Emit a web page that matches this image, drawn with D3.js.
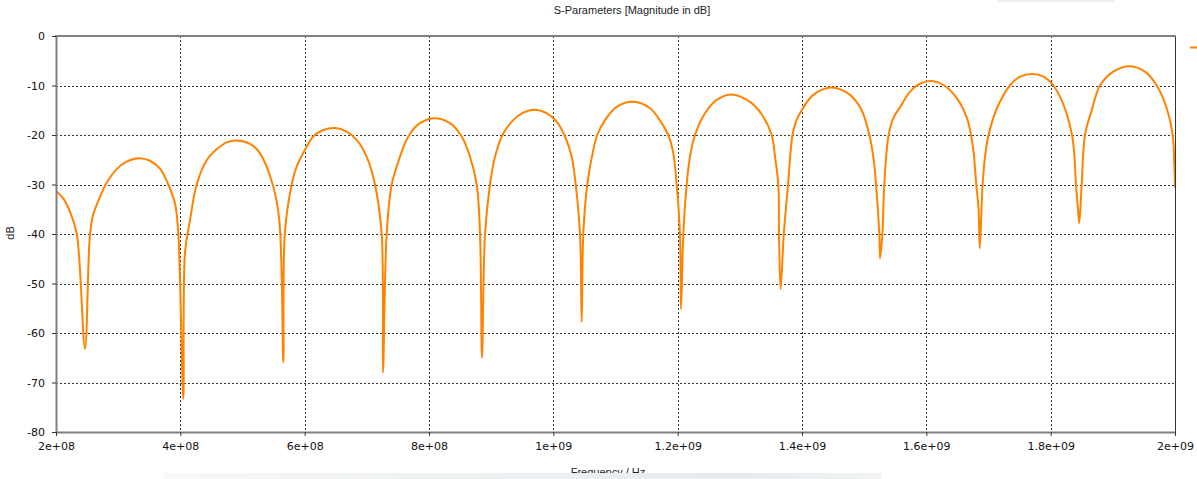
<!DOCTYPE html>
<html>
<head>
<meta charset="utf-8">
<script src="https://cdn.jsdelivr.net/npm/d3@7"></script>
<style>
  html, body { margin: 0; padding: 0; background: #ffffff; overflow: hidden; }
  svg { display: block; }
</style>
</head>
<body>
<svg id="chart" width="1197" height="479"></svg>
<script>
// ---- data ----
const titleText = "S-Parameters [Magnitude in dB]";
const xLabelText = "Frequency / Hz";
const yLabelText = "dB";

const xTickValues = [2e8, 4e8, 6e8, 8e8, 1e9, 1.2e9, 1.4e9, 1.6e9, 1.8e9, 2e9];
const xTickLabels = ["2e+08", "4e+08", "6e+08", "8e+08", "1e+09", "1.2e+09", "1.4e+09", "1.6e+09", "1.8e+09", "2e+09"];
const yTickValues = [0, -10, -20, -30, -40, -50, -60, -70, -80];
const yTickLabels = ["0", "-10", "-20", "-30", "-40", "-50", "-60", "-70", "-80"];

// frequency in MHz
const freqMHz = [
  200.0, 211.7, 222.5, 233.3, 246.6, 254.7, 260.0, 270.8, 279.9, 297.6, 313.7, 332.4, 351.2, 367.3, 380.6, 391.4, 396.7,
  404.8, 407.5, 415.6, 426.3, 442.4, 458.5, 474.6, 490.7, 512.1, 528.2, 548.6, 559.2,
  565.7, 568.0, 579.1, 587.1, 600.5, 613.9, 630.0, 648.8, 667.6, 683.7, 699.8, 713.1, 723.9,
  726.0, 731.9, 740.0, 748.0, 766.7, 785.5, 809.7, 833.8, 852.6, 866.0, 876.7, 882.1,
  885.3, 890.1, 898.1, 906.2, 918.6, 935.6, 951.7, 968.9, 989.3, 1005.4, 1018.8, 1029.5, 1036.0, 1042.9,
  1045.6, 1048.2, 1054.6, 1064.3, 1070.7, 1083.1, 1101.9, 1128.6, 1155.5, 1174.3, 1184.9, 1193.0, 1198.4, 1203.7,
  1205.4, 1209.1, 1214.5, 1219.8, 1227.9, 1244.0, 1262.8, 1286.9, 1316.4, 1335.1, 1351.2, 1356.6, 1361.9, 1363.0,
  1365.6, 1370.7, 1377.6, 1384.7, 1391.2, 1399.5, 1418.2, 1447.7, 1477.2, 1496.0, 1508.3, 1514.7, 1519.1, 1524.4,
  1525.6, 1529.3, 1532.4, 1539.3, 1548.0, 1558.1, 1574.2, 1590.3, 1609.1, 1627.7, 1649.3, 1665.4, 1671.8, 1676.0, 1680.3, 1684.0,
  1686.0, 1690.5, 1694.8, 1700.1, 1713.6, 1735.0, 1751.1, 1769.9, 1788.6, 1803.7, 1820.7, 1834.3, 1838.0, 1840.7, 1843.9,
  1846.0, 1849.9, 1855.2, 1866.0, 1879.4, 1900.8, 1926.5, 1951.8, 1970.6, 1986.7, 1996.3, 1998.9, 2000.0
];
const magDB = [
  -31.3, -32.8, -35.5, -39.9, -63.2, -40.0, -36.0, -32.5, -30.0, -26.9, -25.4, -24.7, -25.2, -26.8, -30.0, -33.8, -39.9,
  -73.3, -43.8, -37.2, -30.0, -25.1, -22.9, -21.5, -21.1, -21.8, -23.7, -30.0, -37.2,
  -65.9, -40.0, -30.0, -26.4, -23.0, -20.3, -19.0, -18.6, -19.3, -21.0, -24.4, -30.0, -40.0,
  -68.0, -40.0, -30.0, -26.4, -20.3, -17.6, -16.6, -17.6, -20.3, -24.4, -30.0, -40.0,
  -65.0, -40.0, -30.0, -24.4, -19.9, -17.0, -15.5, -14.9, -15.6, -17.3, -20.3, -24.4, -30.0, -40.0,
  -57.8, -39.9, -30.0, -23.0, -20.0, -17.0, -14.3, -13.3, -14.6, -17.6, -20.0, -23.7, -30.0, -40.0,
  -55.2, -40.0, -30.0, -24.4, -20.0, -15.6, -12.9, -11.8, -13.3, -15.8, -20.0, -24.4, -30.0, -40.0,
  -51.1, -40.0, -30.0, -20.0, -17.0, -15.0, -11.9, -10.4, -11.9, -15.0, -20.0, -24.4, -30.0, -40.0,
  -44.9, -40.0, -30.0, -20.0, -16.3, -14.3, -11.2, -9.6, -9.1, -9.9, -12.6, -16.6, -20.0, -23.4, -30.0, -34.8,
  -42.9, -30.0, -24.0, -20.0, -14.6, -9.9, -8.2, -7.7, -8.2, -9.9, -13.9, -20.0, -24.0, -30.0, -34.8,
  -37.8, -30.0, -20.0, -15.0, -10.0, -7.2, -6.1, -7.2, -10.0, -14.6, -20.0, -26.0, -30.6
];

// ---- layout ----
const svg = d3.select("#chart");
const W = 1197, H = 479;
const plot = { left: 56, right: 1175, top: 36, bottom: 432 };

const x = d3.scaleLinear().domain([2e8, 2e9]).range([plot.left, plot.right]);
const y = d3.scaleLinear().domain([-80, 0]).range([plot.bottom, plot.top]);

svg.append("rect").attr("width", W).attr("height", H).attr("fill", "#ffffff");

// grid
const grid = svg.append("g").attr("class", "grid");
grid.selectAll("line.vg")
  .data(xTickValues.slice(1, -1))
  .join("line")
  .attr("x1", d => Math.round(x(d)) + 0.5).attr("x2", d => Math.round(x(d)) + 0.5)
  .attr("y1", plot.top).attr("y2", plot.bottom)
  .attr("stroke", "#333").attr("stroke-width", 1).attr("stroke-dasharray", "2,2");
grid.selectAll("line.hg")
  .data(yTickValues.slice(1, -1))
  .join("line")
  .attr("x1", plot.left).attr("x2", plot.right)
  .attr("y1", d => Math.round(y(d)) + 0.5).attr("y2", d => Math.round(y(d)) + 0.5)
  .attr("stroke", "#333").attr("stroke-width", 1).attr("stroke-dasharray", "2,2");

// curve
const data = freqMHz.map((f, i) => ({ f: f * 1e6, v: magDB[i] }));
const line = d3.line()
  .x(d => x(d.f))
  .y(d => y(d.v))
  .curve(d3.curveCatmullRom.alpha(0.5));

const clip = svg.append("defs").append("clipPath").attr("id", "plotclip");
clip.append("rect").attr("x", plot.left).attr("y", plot.top)
  .attr("width", plot.right - plot.left + 1).attr("height", plot.bottom - plot.top);

svg.append("path")
  .datum(data)
  .attr("clip-path", "url(#plotclip)")
  .attr("fill", "none")
  .attr("stroke", "#ff8200")
  .attr("stroke-width", 2)
  .attr("stroke-linejoin", "round")
  .attr("d", line);

// frame
svg.append("line").attr("x1", plot.right + 0.5).attr("x2", plot.right + 0.5)
  .attr("y1", plot.top).attr("y2", plot.bottom).attr("stroke", "#333").attr("stroke-width", 1);
svg.append("line").attr("x1", plot.left - 1).attr("x2", plot.right + 1)
  .attr("y1", plot.top).attr("y2", plot.top).attr("stroke", "#808080").attr("stroke-width", 2);

// axes
const yAxis = d3.axisLeft(y)
  .tickValues(yTickValues)
  .tickFormat((d, i) => yTickLabels[i])
  .tickSizeInner(4).tickSizeOuter(0).tickPadding(7);
const gy = svg.append("g").attr("transform", `translate(${plot.left},0)`).call(yAxis);
gy.select(".domain").attr("stroke", "#808080").attr("stroke-width", 2);
gy.selectAll(".tick line").attr("stroke", "#333");
gy.selectAll(".tick text").attr("fill", "#111")
  .style("font-family", "'DejaVu Sans', Verdana, sans-serif").style("font-size", "11px");

const xAxis = d3.axisBottom(x)
  .tickValues(xTickValues)
  .tickFormat((d, i) => xTickLabels[i])
  .tickSizeInner(4).tickSizeOuter(0).tickPadding(6);
const gx = svg.append("g").attr("transform", `translate(0,${plot.bottom})`).call(xAxis);
gx.select(".domain").attr("stroke", "#808080").attr("stroke-width", 2);
gx.selectAll(".tick line").attr("stroke", "#333");
gx.selectAll(".tick text").attr("fill", "#111")
  .style("font-family", "'DejaVu Sans', Verdana, sans-serif").style("font-size", "11px");

// title and labels
svg.append("text")
  .attr("x", 632).attr("y", 14)
  .attr("text-anchor", "middle")
  .style("font-family", "'Liberation Sans', Arial, sans-serif").style("font-size", "11px")
  .attr("fill", "#222")
  .text(titleText);

svg.append("text")
  .attr("transform", "translate(14,233) rotate(-90)")
  .attr("text-anchor", "middle")
  .style("font-family", "'Liberation Sans', Arial, sans-serif").style("font-size", "11px")
  .attr("fill", "#222")
  .text(yLabelText);

svg.append("text")
  .attr("x", 608).attr("y", 476)
  .attr("text-anchor", "middle")
  .style("font-family", "'Liberation Sans', Arial, sans-serif").style("font-size", "11px")
  .attr("fill", "#222")
  .text(xLabelText);

// legend stub at top right
svg.append("line").attr("x1", 1190).attr("x2", 1197).attr("y1", 47.5).attr("y2", 47.5)
  .attr("stroke", "#ff8200").attr("stroke-width", 2);

// faint background bands seen at the picture edges
const defs = svg.append("defs");
const grad = defs.append("linearGradient").attr("id", "band").attr("x1", "0").attr("x2", "1");
grad.append("stop").attr("offset", "0").attr("stop-color", "#f7f8f7");
grad.append("stop").attr("offset", "0.8").attr("stop-color", "#e6ebee");
grad.append("stop").attr("offset", "1").attr("stop-color", "#f2f4f4");
svg.append("rect").attr("x", 164).attr("y", 473).attr("width", 718).attr("height", 6).attr("fill", "url(#band)");
svg.append("rect").attr("x", 997).attr("y", 0).attr("width", 118).attr("height", 2).attr("fill", "#eceeee");
</script>
</body>
</html>
